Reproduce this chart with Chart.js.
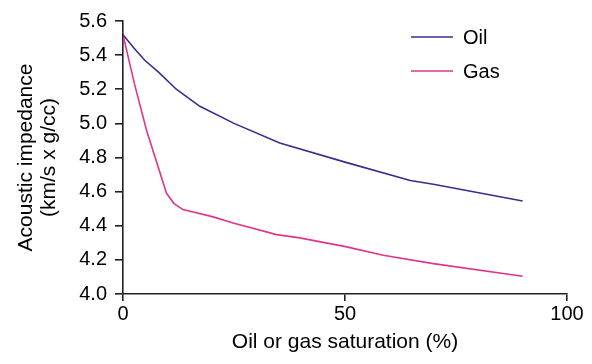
<!DOCTYPE html>
<html>
<head>
<meta charset="utf-8">
<script src="https://cdn.jsdelivr.net/npm/chart.js@4"></script>
<style>
  html, body { margin: 0; padding: 0; background: #fff; }
  #wrap { width: 592px; height: 364px; position: relative; }
</style>
</head>
<body>
<div id="wrap"><canvas id="myChart"></canvas></div>
<script>
// saturation (%) and acoustic impedance
const oilSat = [0, 2.5, 4.9, 8, 12, 17.3, 25, 35.3, 50.4, 64.7, 69.9, 90];
const oilImp = [5.52, 5.44, 5.37, 5.30, 5.20, 5.10, 5.00, 4.885, 4.77, 4.665, 4.643, 4.545];
const gasSat = [0, 2.6, 5.3, 9.8, 11.5, 13.5, 20.3, 24.8, 34.6, 39.8, 50.4, 58.6, 69.9, 90];
const gasImp = [5.52, 5.23, 4.96, 4.59, 4.53, 4.495, 4.452, 4.416, 4.348, 4.329, 4.276, 4.227, 4.178, 4.104];
const seriesNames = ["Oil", "Gas"];
const seriesColors = ["#3d2b8e", "#e0358c"];
const xTicks = [0, 50, 100];
const yTicks = [4.0, 4.2, 4.4, 4.6, 4.8, 5.0, 5.2, 5.4, 5.6];

const FONT = "'Liberation Sans', Arial, Helvetica, sans-serif";

const toPoints = (xs, ys) => xs.map((x, i) => ({ x: x, y: ys[i] }));

const data = {
  datasets: [{
    label: seriesNames[0],
    data: toPoints(oilSat, oilImp),
    borderColor: seriesColors[0],
    backgroundColor: seriesColors[0],
    borderWidth: 1.6,
    pointRadius: 0,
    tension: 0
  }, {
    label: seriesNames[1],
    data: toPoints(gasSat, gasImp),
    borderColor: seriesColors[1],
    backgroundColor: seriesColors[1],
    borderWidth: 1.6,
    pointRadius: 0,
    tension: 0
  }]
};

// legend drawn inside the plot, top right
const innerLegend = {
  id: "innerLegend",
  afterDraw(chart) {
    const ctx = chart.ctx;
    ctx.save();
    ctx.font = "20px " + FONT;
    ctx.textBaseline = "middle";
    chart.data.datasets.forEach((ds, i) => {
      const y = 37 + i * 34;
      ctx.strokeStyle = ds.borderColor;
      ctx.lineWidth = 1.6;
      ctx.beginPath();
      ctx.moveTo(411, y);
      ctx.lineTo(453, y);
      ctx.stroke();
      ctx.fillStyle = "#000";
      ctx.fillText(ds.label, 463, y + 1);
    });
    ctx.restore();
  }
};

const config = {
  type: "line",
  data,
  plugins: [innerLegend],
  options: {
    responsive: true,
    maintainAspectRatio: false,
    animation: false,
    layout: { padding: { left: 0, right: 25, top: 21, bottom: 0 } },
    plugins: { legend: { display: false }, tooltip: { enabled: false } },
    scales: {
      x: {
        type: "linear",
        min: 0,
        max: 100,
        afterFit: (s) => { s.height = 70; },
        afterBuildTicks: (s) => { s.ticks = xTicks.map(v => ({ value: v })); },
        border: { color: "#222", width: 1.6 },
        grid: { drawOnChartArea: false, drawTicks: true, tickLength: 7, color: "#222", lineWidth: 1.6 },
        ticks: { color: "#000", font: { family: FONT, size: 20 }, padding: 1, maxRotation: 0 },
        title: {
          display: true,
          text: "Oil or gas saturation (%)",
          color: "#000",
          font: { family: FONT, size: 21, lineHeight: 1.1 },
          padding: { top: 0, bottom: 10 }
        }
      },
      y: {
        min: 4.0,
        max: 5.6,
        afterFit: (s) => { s.width = 123; },
        afterBuildTicks: (s) => { s.ticks = yTicks.map(v => ({ value: v })); },
        border: { color: "#222", width: 1.6 },
        grid: { drawOnChartArea: false, drawTicks: true, tickLength: 8, color: "#222", lineWidth: 1.6 },
        ticks: {
          color: "#000",
          font: { family: FONT, size: 20 },
          padding: 8,
          callback: (v) => Number(v).toFixed(1)
        },
        title: {
          display: true,
          text: ["Acoustic impedance", "(km/s x g/cc)"],
          color: "#000",
          font: { family: FONT, size: 21, lineHeight: 1.1 },
          padding: { top: 15, bottom: 0 }
        }
      }
    }
  }
};

var myChart = new Chart(document.getElementById("myChart"), config);
</script>
</body>
</html>
